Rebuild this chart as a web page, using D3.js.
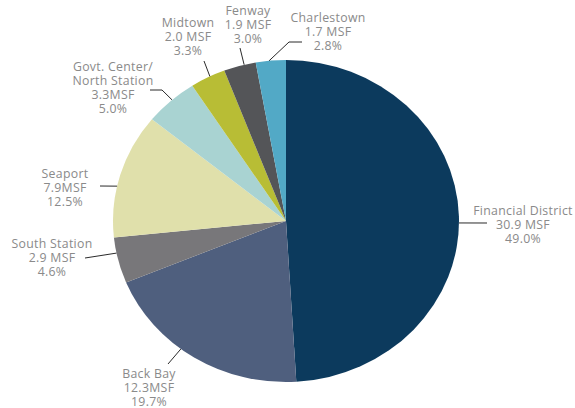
<!DOCTYPE html>
<meta charset="utf-8">
<style>
body { margin: 0; background: #fff; }
.labels text {
	font-family: 'Open Sans', sans-serif;
	font-size: 12.3px;
	letter-spacing: 0.3px;
	fill: #8a8a8a;
}
.leaders polyline {
	fill: none;
	stroke: #2b2b2b;
	stroke-width: 1;
}
</style>
<svg width="575" height="408"></svg>
<script src="https://d3js.org/d3.v7.min.js"></script>
<script>
// submarkets, clockwise from 12 o'clock
var names = ["Financial District", "Back Bay", "South Station", "Seaport", "Govt. Center/\nNorth Station", "Midtown", "Fenway", "Charlestown"];
var msfText = ["30.9 MSF", "12.3MSF", "2.9 MSF", "7.9MSF", "3.3MSF", "2.0 MSF", "1.9 MSF", "1.7 MSF"];
var shares = [49.0, 19.7, 4.6, 12.5, 5.0, 3.3, 3.0, 2.8];
var colors = ["#0c3a5d", "#4f5f7e", "#78777a", "#e0e0ab", "#a9d3d2", "#b8bd35", "#545558", "#52a9c6"];

var svg = d3.select("svg"),
	cx = 286, cy = 221, rx = 173, ry = 161;   // the original pie is slightly squashed

// label placement: leader start angle (deg, on the rim), extra leader points, text centre
var layout = [
	{ a: 90.7, pts: [[487, 223]], tx: 523, ty: 211 },
	{ a: 217.4, pts: [[168, 364]], tx: 149, ty: 374 },
	{ a: 258.5, pts: [[85, 258]], tx: 52, ty: 244 },
	{ a: 282.5, pts: [[100, 186]], tx: 65, ty: 174 },
	{ a: 318.8, pts: [[162, 90], [150, 90]], tx: 113, ty: 67 },
	{ a: 333.9, pts: [[204, 61]], tx: 188, ty: 23 },
	{ a: 346, pts: [[240, 48]], tx: 248, ty: 11 },
	{ a: 354.4, pts: [[289, 42], [302, 42]], tx: 328, ty: 18 }
];

var pie = d3.pie().sort(null).value(function(d) { return d; });
var arc = d3.arc().innerRadius(0).outerRadius(rx);
var arcs = pie(shares);

var g = svg.append("g").attr("transform", "translate(" + cx + "," + cy + ") scale(1," + (ry / rx) + ")");
g.selectAll("path")
	.data(arcs)
	.enter().append("path")
	.attr("d", arc)
	.attr("fill", function(d, i) { return colors[i]; });

function rim(deg) {
	var t = deg * Math.PI / 180;
	return [cx + rx * Math.sin(t), cy - ry * Math.cos(t)];
}

svg.append("g").attr("class", "leaders")
	.selectAll("polyline")
	.data(layout)
	.enter().append("polyline")
	.attr("points", function(d) {
		return [rim(d.a)].concat(d.pts).map(function(p) { return p.join(","); }).join(" ");
	});

var labels = svg.append("g").attr("class", "labels")
	.selectAll("text")
	.data(layout)
	.enter().append("text")
	.attr("text-anchor", "middle")
	.attr("x", function(d) { return d.tx; })
	.attr("y", function(d) { return d.ty; });

labels.each(function(d, i) {
	var lines = names[i].split("\n").concat([msfText[i], shares[i].toFixed(1) + "%"]);
	var t = d3.select(this);
	lines.forEach(function(s, k) {
		t.append("tspan")
			.attr("x", d.tx)
			.attr("dy", k === 0 ? "0.35em" : 14)
			.text(s);
	});
});
</script>
